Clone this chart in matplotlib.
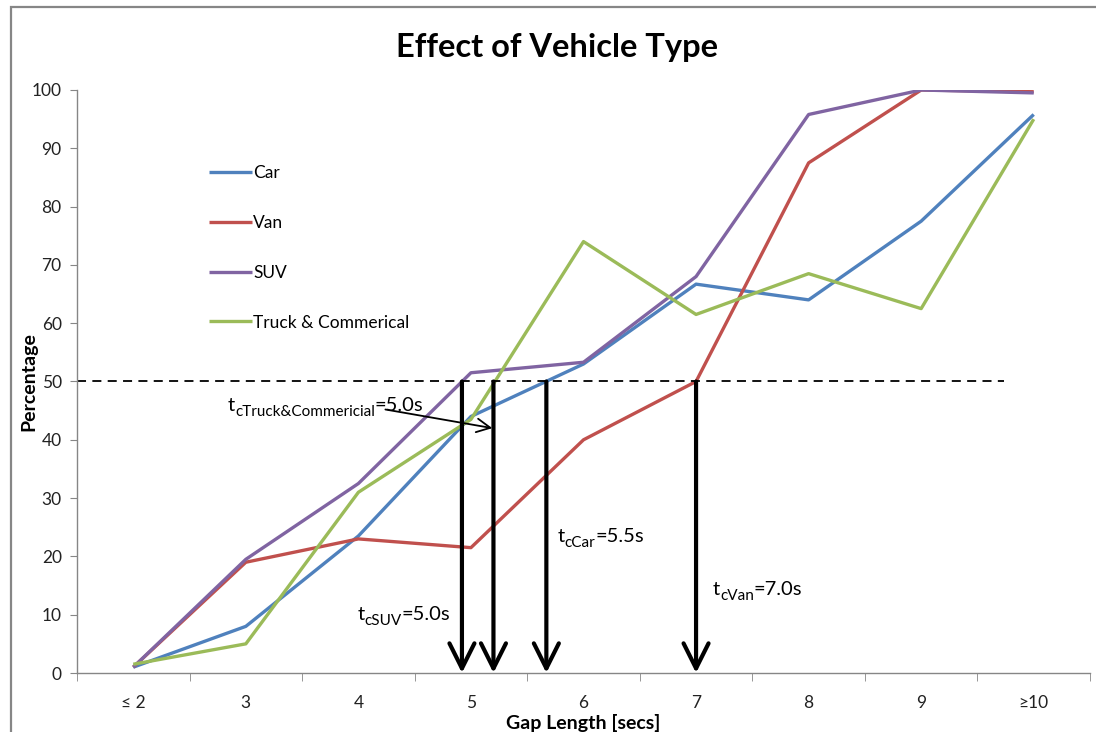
import numpy as np
import matplotlib
matplotlib.use("Agg")
import matplotlib.pyplot as plt
from matplotlib.patches import Rectangle
from matplotlib.transforms import offset_copy

# ---- data ----
categories = ["\u2264 2", "3", "4", "5", "6", "7", "8", "9", "\u226510"]
car = [1, 8, 23.5, 44, 53, 66.7, 64, 77.5, 95.8]
van = [1, 19, 23, 21.5, 40, 50, 87.5, 100, 99.7]
suv = [1, 19.5, 32.5, 51.5, 53.3, 68, 95.8, 100, 99.5]
truck = [1.5, 5, 31, 43.5, 74, 61.5, 68.5, 62.5, 95]
series_names = ["Car", "Van", "SUV", "Truck & Commerical"]

threshold = 50
arrow_x = [2.92, 3.20, 3.67, 5.0]   # SUV, Truck, Car, Van critical gaps (category positions)

plt.rcParams['font.family'] = ['Lato', 'DejaVu Sans']

W, H = 1096, 732
fig = plt.figure(figsize=(W / 100, H / 100), dpi=100)
ax = fig.add_axes([77 / W, 1 - 673 / H, (1090 - 77) / W, (673 - 90) / H])

colors = ["#4F81BD", "#C0504D", "#8064A2", "#9BBB59"]
x = np.arange(len(categories))
for vals, name, c in zip([car, van, suv, truck], series_names, colors):
    ax.plot(x, vals, color=c, lw=2.4, label=name, solid_capstyle='butt')

ax.set_xlim(-0.5, len(categories) - 0.5)
ax.set_ylim(0, 100)

gray = "#868686"
for s in ["top", "right"]:
    ax.spines[s].set_visible(False)
for s in ["left", "bottom"]:
    ax.spines[s].set_color(gray)
    ax.spines[s].set_linewidth(1.0)

ax.set_yticks(np.arange(0, 101, 10))
ax.tick_params(axis='y', direction='out', length=5, color=gray, labelsize=12.5, pad=6, labelcolor='#222222')
ax.set_xticks(x)
ax.set_xticklabels(categories)
ax.set_xticks(np.arange(-0.5, len(categories), 1), minor=True)
ax.tick_params(axis='x', which='major', length=0, labelsize=12.5, pad=16, labelcolor='#222222')
ax.tick_params(axis='x', which='minor', direction='out', length=6, color=gray)

ax.set_xlabel("Gap Length [secs]", fontsize=14, fontweight='bold')
ax.xaxis.set_label_coords(0.5, (673 - 714) / 583)
ax.set_ylabel("Percentage", fontsize=14, fontweight='bold')
ax.yaxis.set_label_coords((37 - 77) / 1013, 0.5)

fig.suptitle("Effect of Vehicle Type", fontsize=23.5, fontweight='bold', x=557 / W, y=1 - 47 / H, va='center')

# 50% dashed line
ax.plot([-0.5, 7.74], [threshold, threshold], color='black', lw=1.3, ls=(0, (5, 3.5)))

# vertical arrows
for xa in arrow_x:
    ax.annotate("", xy=(xa, 0), xytext=(xa, threshold),
                arrowprops=dict(arrowstyle="->,head_length=0.9,head_width=0.45",
                                lw=3, color='black', mutation_scale=20,
                                shrinkA=0, shrinkB=0))

# annotation texts with subscripts
renderer = fig.canvas.get_renderer()
fs = 14.5


def sub_label(xd, yd, sub, rest):
    t1 = ax.text(xd, yd, "t", fontsize=fs, va='baseline', ha='left')
    w1 = t1.get_window_extent(renderer).width
    tr2 = offset_copy(ax.transData, fig=fig, x=w1 * 72 / fig.dpi, y=-3.8, units='points')
    t2 = ax.text(xd, yd, sub, fontsize=fs * 0.76, va='baseline', ha='left', transform=tr2)
    w2 = t2.get_window_extent(renderer).width
    tr3 = offset_copy(ax.transData, fig=fig, x=(w1 + w2) * 72 / fig.dpi, y=0, units='points')
    ax.text(xd, yd, rest, fontsize=fs, va='baseline', ha='left', transform=tr3)


sub_label(0.84, 45.0, "cTruck&Commericial", "=5.0s")
ax.annotate("", xy=(3.19, 42.0), xytext=(2.24, 45.2),
            arrowprops=dict(arrowstyle="->,head_length=0.7,head_width=0.35", lw=1.3, color='black',
                            mutation_scale=14, shrinkA=0, shrinkB=0))
sub_label(1.99, 9.1, "cSUV", "=5.0s")
sub_label(3.77, 22.5, "cCar", "=5.5s")
sub_label(5.15, 13.4, "cVan", "=7.0s")

# legend
leg = ax.legend(loc='upper left', bbox_to_anchor=(209 / W, 1 - 165 / H), bbox_transform=fig.transFigure,
                frameon=False, fontsize=12.5, handlelength=2.45, handletextpad=0.08, labelspacing=1.95,
                borderaxespad=0, borderpad=0)

# outer chart border
fig.patches.append(Rectangle((11 / W, -0.1), 1.2, 1.1 - 7 / H, transform=fig.transFigure,
                             fill=False, edgecolor=gray, lw=1.6))

fig.savefig("out.png", dpi=100)
